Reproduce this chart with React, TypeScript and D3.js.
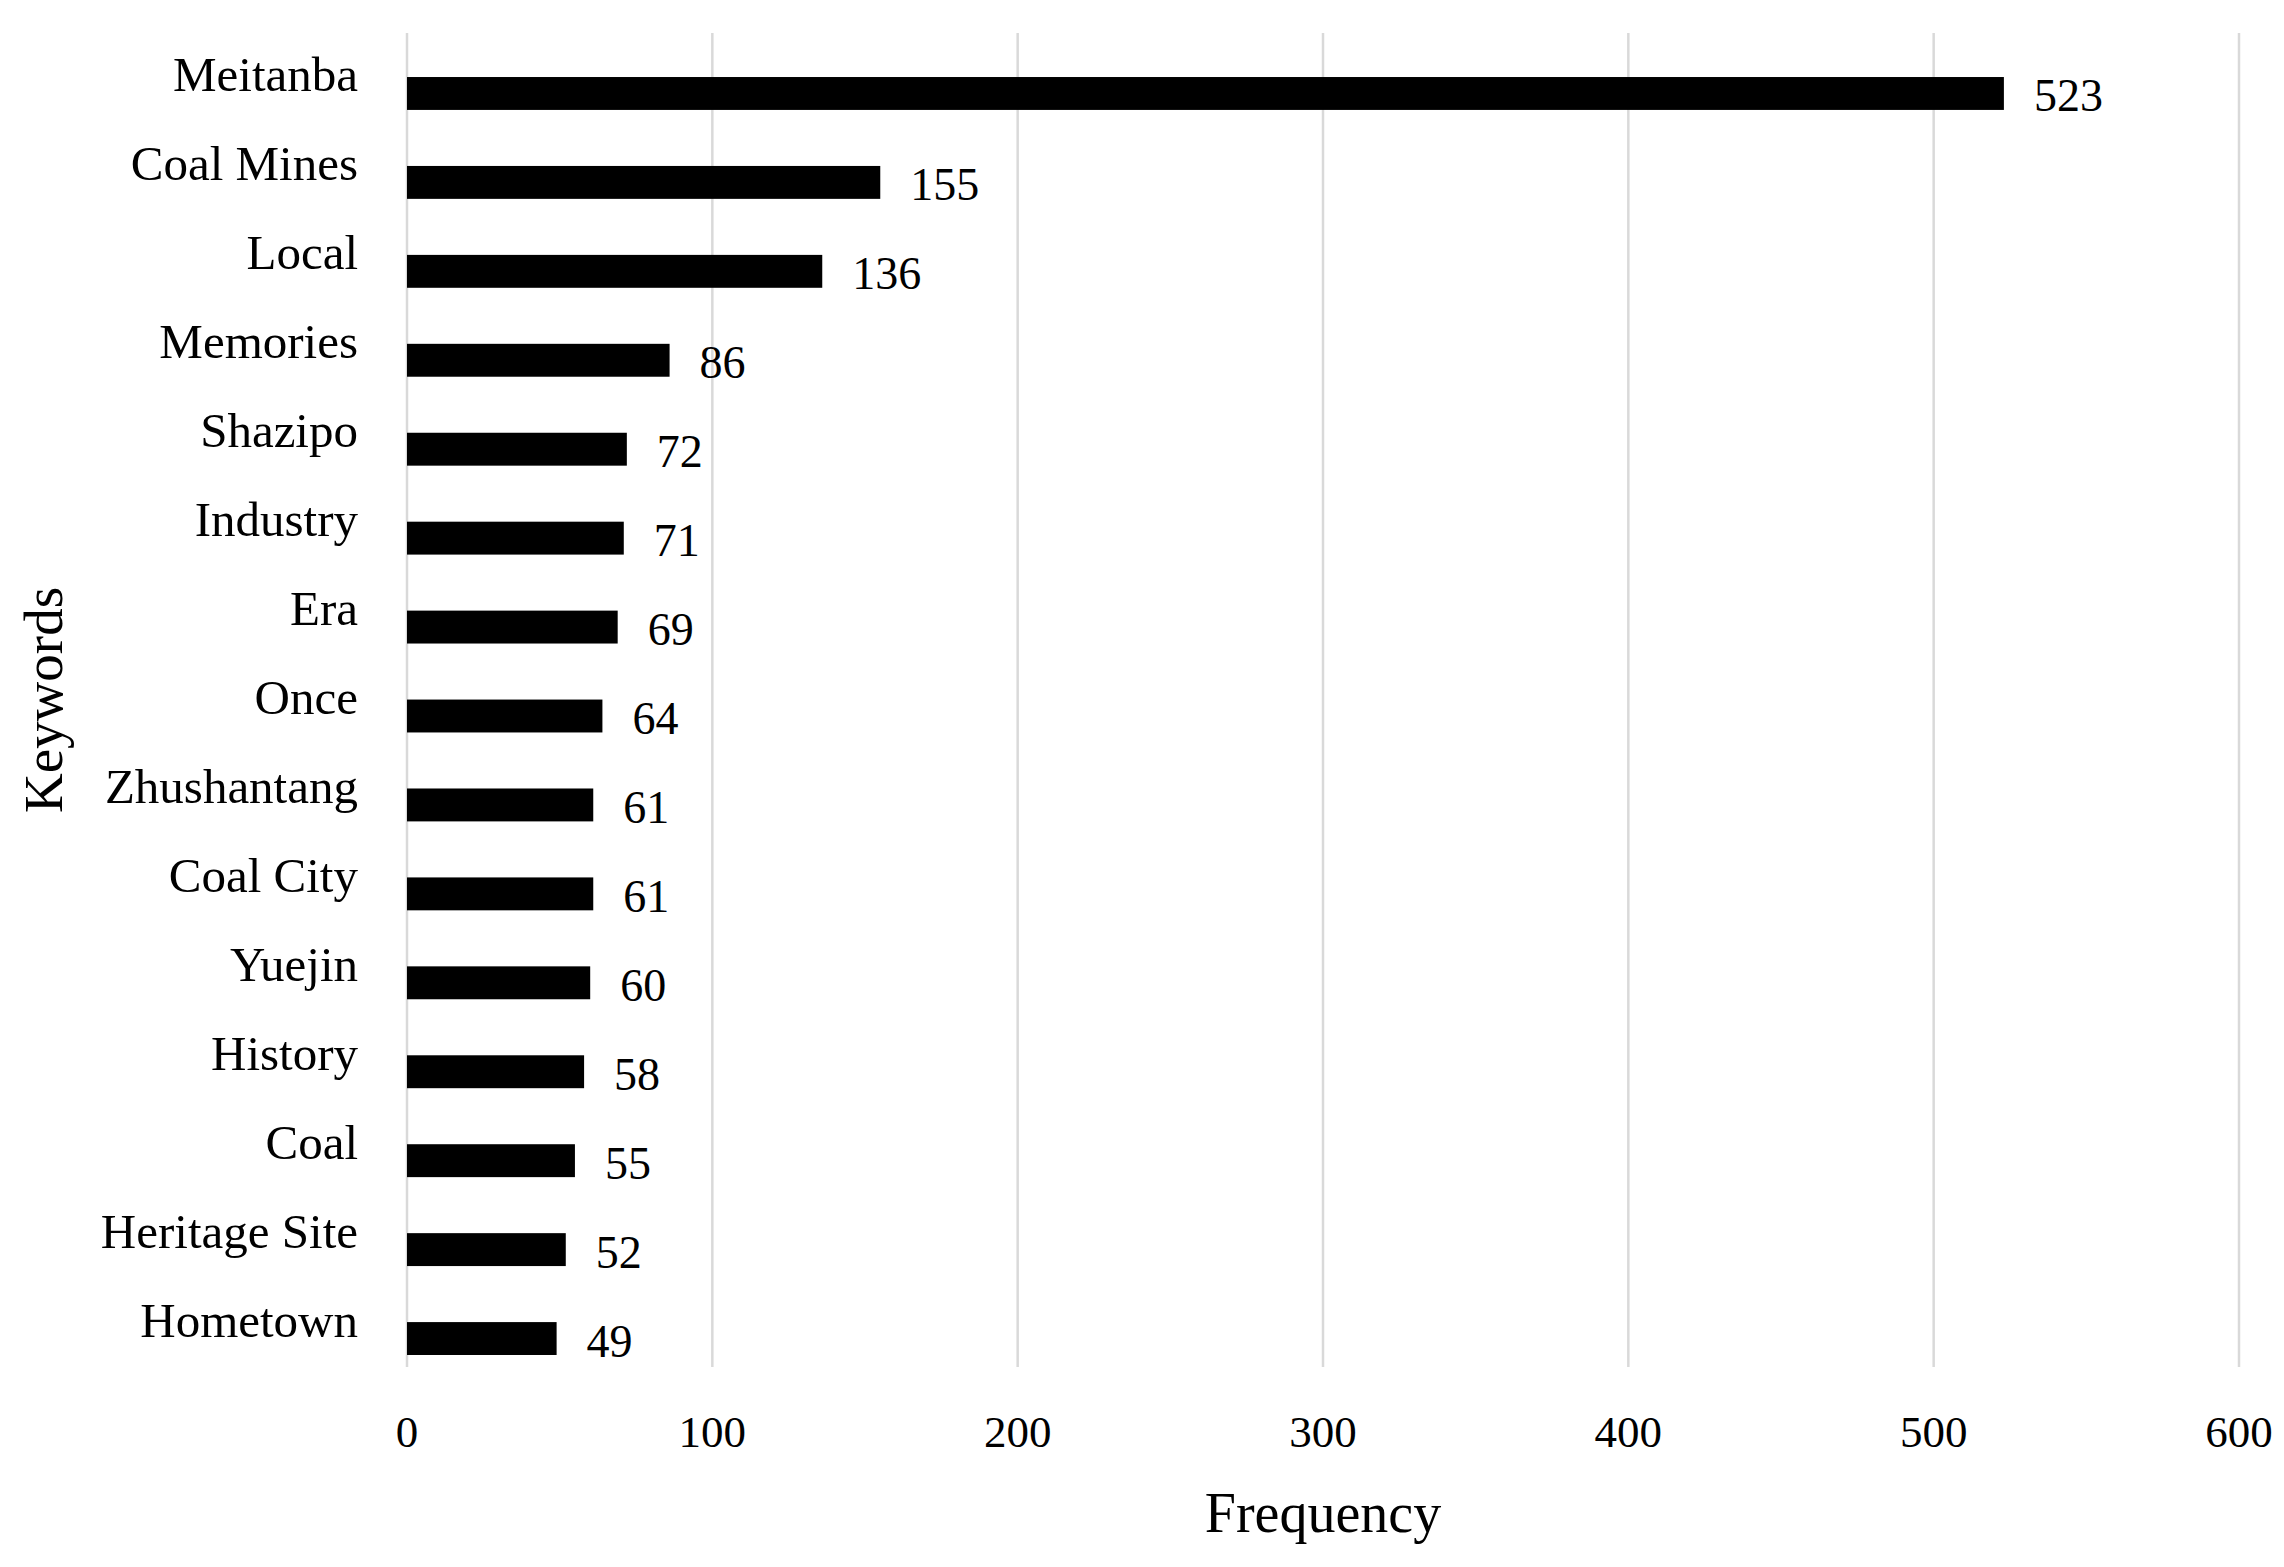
import React, { useEffect, useRef } from 'react';
import * as d3 from 'd3';

const keywords = [
    'Meitanba', 'Coal Mines', 'Local', 'Memories', 'Shazipo', 'Industry', 'Era', 'Once',
    'Zhushantang', 'Coal City', 'Yuejin', 'History', 'Coal', 'Heritage Site', 'Hometown',
];
const frequency = [523, 155, 136, 86, 72, 71, 69, 64, 61, 61, 60, 58, 55, 52, 49];
const xTicks = [0, 100, 200, 300, 400, 500, 600];

const WIDTH = 2284;
const HEIGHT = 1567;
const FONT = '"Liberation Serif", "Times New Roman", serif';

export default function App() {
    const svgRef = useRef<SVGSVGElement>(null);

    useEffect(() => {
        if (!svgRef.current) return;
        const svg = d3.select(svgRef.current);
        svg.selectAll('*').remove();

        const margin = { top: 33, right: 45, bottom: 200, left: 407 };
        const innerW = WIDTH - margin.left - margin.right;
        const innerH = HEIGHT - margin.top - margin.bottom;

        const g = svg.append('g')
            .attr('transform', `translate(${margin.left},${margin.top})`);

        const x = d3.scaleLinear().domain([0, 600]).range([0, innerW]);
        const y = d3.scaleBand<string>().domain(keywords).range([0, innerH]).padding(0);
        const bw = y.bandwidth();

        // gridlines
        g.append('g')
            .selectAll('line')
            .data(xTicks)
            .join('line')
            .attr('x1', d => x(d))
            .attr('x2', d => x(d))
            .attr('y1', 0)
            .attr('y2', innerH)
            .attr('stroke', '#d9d9d9')
            .attr('stroke-width', 2.5);

        // bars (sit in lower half of each band, like the excel original)
        const barH = bw * 0.37;
        const barTop = (k: string) => y(k)! + bw * 0.495;

        g.append('g')
            .selectAll('rect')
            .data(keywords)
            .join('rect')
            .attr('x', x(0))
            .attr('y', d => barTop(d))
            .attr('width', (d, i) => x(frequency[i]) - x(0))
            .attr('height', barH)
            .attr('fill', '#000');

        // value labels
        g.append('g')
            .selectAll('text')
            .data(keywords)
            .join('text')
            .attr('x', (d, i) => x(frequency[i]) + 30)
            .attr('y', d => barTop(d) + barH / 2 + 18)
            .attr('font-family', FONT)
            .attr('font-size', 46)
            .attr('fill', '#000')
            .text((d, i) => frequency[i]);

        // category labels
        g.append('g')
            .selectAll('text')
            .data(keywords)
            .join('text')
            .attr('x', -49)
            .attr('y', d => y(d)! + bw / 2 + 14)
            .attr('text-anchor', 'end')
            .attr('font-family', FONT)
            .attr('font-size', 49)
            .attr('fill', '#000')
            .text(d => d);

        // x tick labels
        g.append('g')
            .selectAll('text')
            .data(xTicks)
            .join('text')
            .attr('x', d => x(d))
            .attr('y', innerH + 80)
            .attr('text-anchor', 'middle')
            .attr('font-family', FONT)
            .attr('font-size', 45)
            .attr('fill', '#000')
            .text(d => d);

        // axis titles
        svg.append('text')
            .attr('x', margin.left + innerW / 2)
            .attr('y', 1532)
            .attr('text-anchor', 'middle')
            .attr('font-family', FONT)
            .attr('font-size', 56)
            .attr('fill', '#000')
            .text('Frequency');

        svg.append('text')
            .attr('transform', `translate(62,${margin.top + innerH / 2}) rotate(-90)`)
            .attr('text-anchor', 'middle')
            .attr('font-family', FONT)
            .attr('font-size', 55)
            .attr('fill', '#000')
            .text('Keywords');
    }, []);

    return (
        <div style={{ position: 'absolute', left: 0, top: 0, width: WIDTH, height: HEIGHT, background: '#fff' }}>
            <svg ref={svgRef} width={WIDTH} height={HEIGHT} />
        </div>
    );
}
